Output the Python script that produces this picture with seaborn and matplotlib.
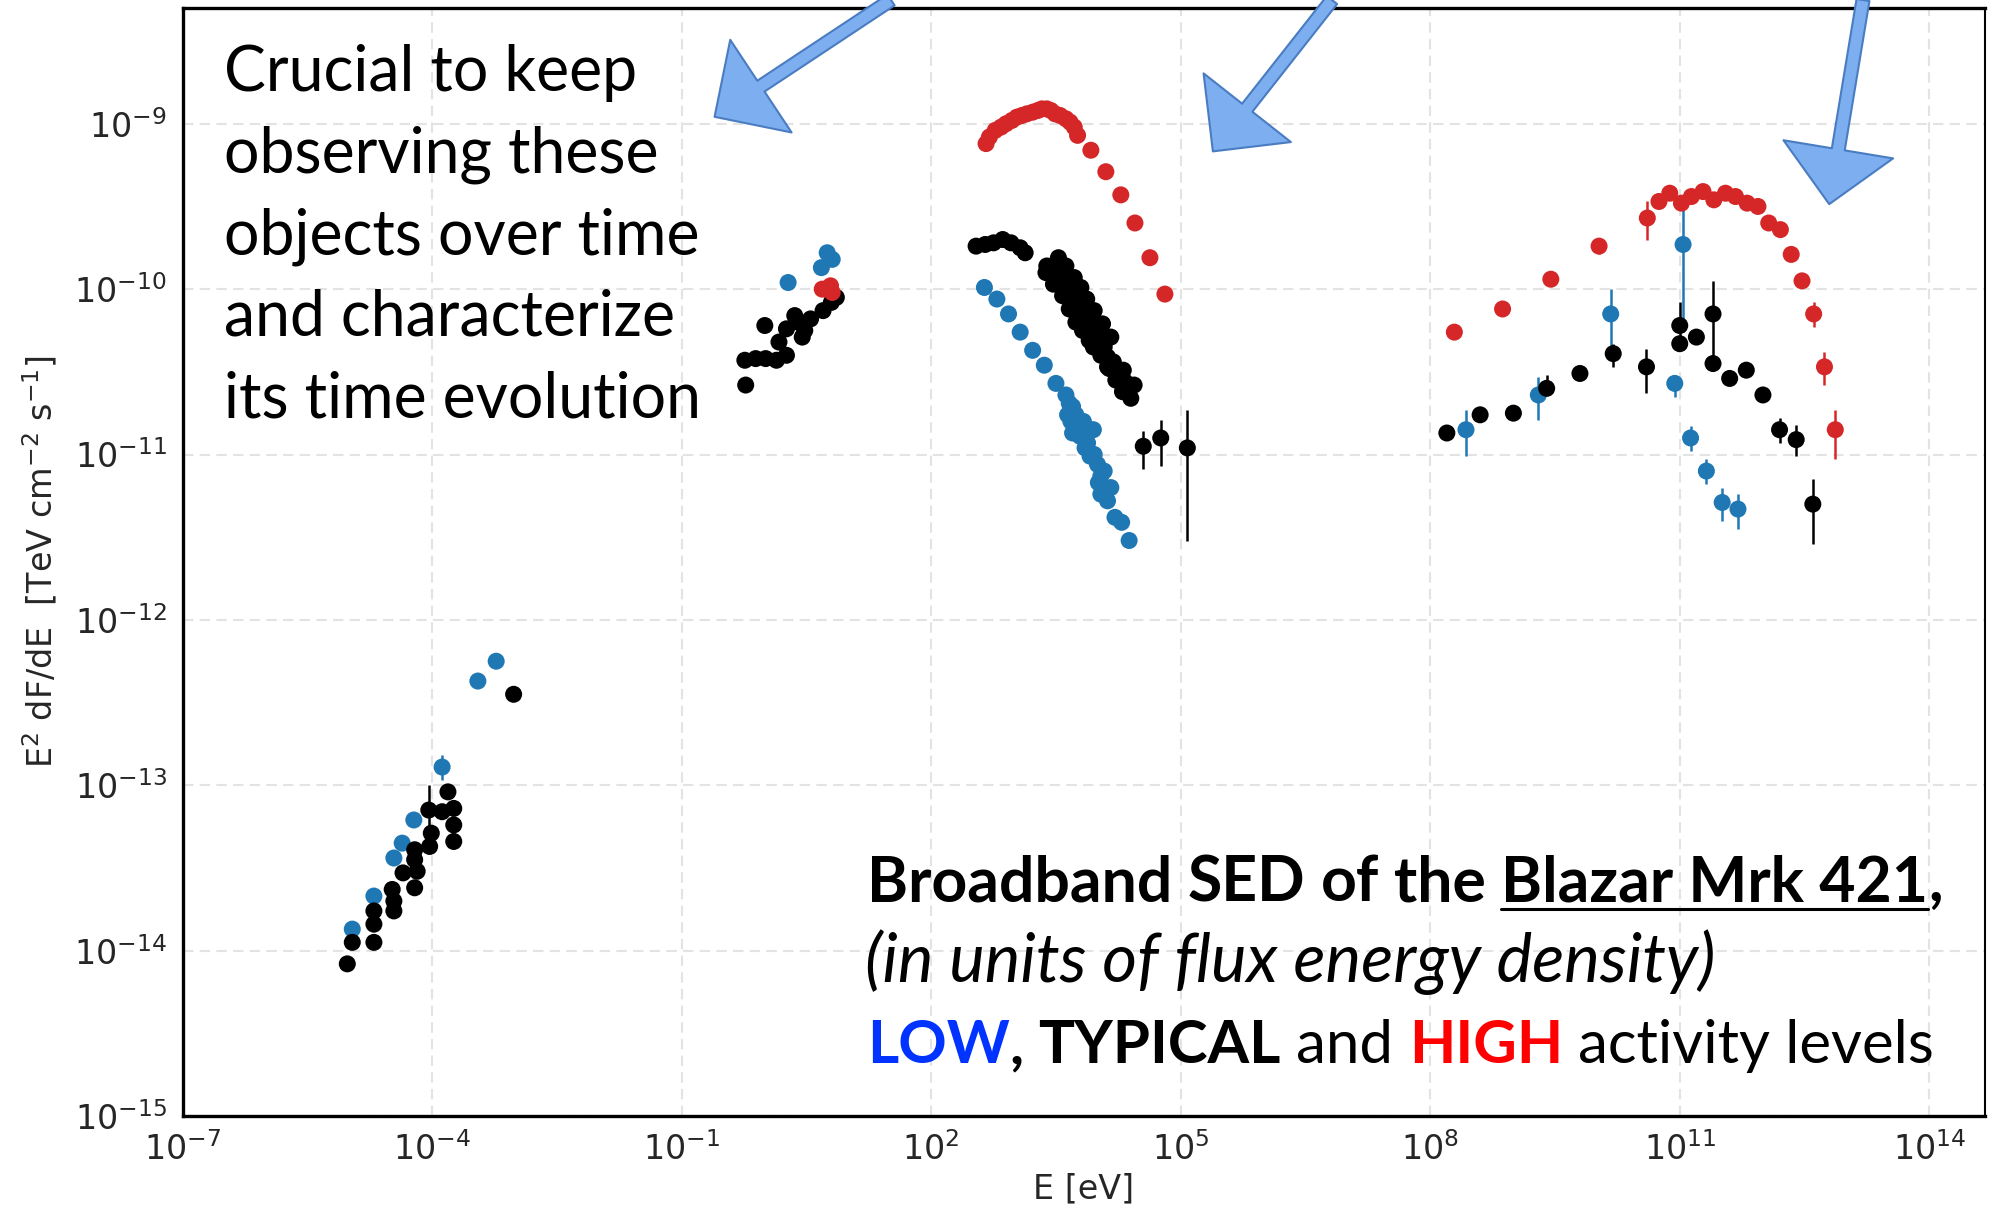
import numpy as np
import pandas as pd
import matplotlib
matplotlib.use("Agg")
import matplotlib.pyplot as plt
from matplotlib.lines import Line2D
import seaborn as sns

W, H = 1995, 1215

# values are log10(E / eV) and log10(E^2 dF/dE / TeV cm-2 s-1)
low_logE = [-4.96, -4.70, -4.46, -4.36, -4.22, -3.88, -3.45, -3.23,
            0.28, 0.68, 0.75, 0.81,
            2.64, 2.79, 2.93, 3.07, 3.22, 3.36, 3.50, 3.62, 3.66, 3.70, 3.64, 3.74,
            3.83, 3.70, 3.79, 3.91, 3.95, 3.85, 3.91, 4.00, 4.04, 4.08, 4.16, 4.04,
            4.12, 4.21, 4.29, 4.38, 3.68, 3.76, 3.88, 3.96, 4.01, 4.10,
            8.43, 9.30, 10.17, 10.94, 11.04, 11.13, 11.32, 11.51, 11.70]
low_logF = [-13.87, -13.67, -13.44, -13.35, -13.21, -12.89, -12.37, -12.25,
            -9.96, -9.87, -9.78, -9.82,
            -9.99, -10.06, -10.15, -10.26, -10.37, -10.46, -10.57, -10.64, -10.69, -10.71, -10.76, -10.76,
            -10.80, -10.87, -10.89, -10.85, -10.85, -10.96, -11.01, -11.06, -11.13, -11.10, -11.20, -11.24,
            -11.28, -11.38, -11.41, -11.52, -10.80, -10.84, -10.93, -11.00, -11.17, -11.22,
            -10.85, -10.64, -10.15, -10.57, -9.73, -10.90, -11.10, -11.29, -11.33]

typ_logE = [-5.02, -4.96, -4.70, -4.70, -4.70, -4.46, -4.46, -4.48, -4.35, -4.21, -4.18,
            -4.21, -4.21, -4.03, -4.01, -4.04, -3.88, -3.74, -3.74, -3.74, -3.81, -3.02,
            -0.23, -0.24, -0.11, 0.01, 0.14, 0.26, 0.17, 0.00, 0.26, 0.36, 0.45, 0.48,
            0.70, 0.86, 0.40, 0.55, 0.80,
            2.54, 2.65, 2.75, 2.86, 2.96, 3.07, 3.13,
            3.39, 3.45, 3.49, 3.53, 3.55, 3.60, 3.62, 3.66, 3.68, 3.72, 3.74, 3.79,
            3.81, 3.85, 3.87, 3.91, 3.93, 3.95, 4.00, 4.04, 4.08, 4.12, 4.14, 4.19,
            4.23, 4.27, 4.31, 4.33, 4.38, 4.44, 4.40,
            3.53, 3.62, 3.72, 3.80, 3.87, 3.96, 4.06, 4.16,
            3.38, 3.47, 3.58, 3.66, 3.74, 3.82, 3.90, 3.95, 4.04, 4.12, 4.22, 4.30,
            4.55, 4.76, 5.08,
            8.20, 8.60, 9.00, 9.40, 9.80, 10.20, 10.60, 11.00, 11.00, 11.20, 11.40,
            11.40, 11.60, 11.80, 12.00, 12.20, 12.40, 12.60]
typ_logF = [-14.08, -13.95, -13.95, -13.84, -13.76, -13.76, -13.70, -13.63, -13.53, -13.62, -13.52,
            -13.45, -13.39, -13.37, -13.29, -13.15, -13.16, -13.14, -13.24, -13.34, -13.04, -12.45,
            -10.58, -10.43, -10.42, -10.42, -10.43, -10.40, -10.32, -10.22, -10.24, -10.16, -10.29, -10.25,
            -10.13, -10.05, -10.20, -10.18, -10.08,
            -9.74, -9.73, -9.72, -9.70, -9.72, -9.75, -9.78,
            -9.86, -9.88, -9.85, -9.84, -9.89, -9.91, -9.96, -9.95, -10.01, -9.99, -10.06, -10.08,
            -10.13, -10.15, -10.20, -10.21, -10.27, -10.29, -10.27, -10.32, -10.35, -10.41, -10.48, -10.44,
            -10.50, -10.54, -10.49, -10.56, -10.59, -10.58, -10.66,
            -9.81, -9.86, -9.93, -9.99, -10.06, -10.13, -10.21, -10.29,
            -9.90, -9.97, -10.04, -10.12, -10.20, -10.25, -10.31, -10.35, -10.40, -10.47, -10.55, -10.62,
            -10.95, -10.90, -10.96,
            -10.87, -10.76, -10.75, -10.60, -10.51, -10.39, -10.47, -10.22, -10.33, -10.29, -10.15,
            -10.45, -10.54, -10.49, -10.64, -10.85, -10.91, -11.30]

high_logE = [0.69, 0.79, 0.81,
             2.66, 2.77, 2.90, 3.03, 3.15, 3.28, 3.39, 3.49, 3.62, 3.72, 3.76, 3.92,
             4.10, 4.28, 4.45, 4.63, 4.81,
             2.70, 2.84, 2.97, 3.09, 3.22, 3.33, 3.44, 3.55, 3.67,
             8.29, 8.87, 9.45, 10.03, 10.61, 10.75, 10.88, 11.02, 11.14, 11.28, 11.41,
             11.55, 11.67, 11.81, 11.94, 12.07, 12.21, 12.34, 12.47, 12.61, 12.74, 12.87]
high_logF = [-10.00, -9.98, -10.02,
             -9.12, -9.04, -9.00, -8.96, -8.94, -8.92, -8.91, -8.94, -8.97, -9.02, -9.07, -9.16,
             -9.29, -9.43, -9.60, -9.81, -10.03,
             -9.08, -9.02, -8.98, -8.95, -8.93, -8.91, -8.92, -8.95, -8.99,
             -10.26, -10.12, -9.94, -9.74, -9.57, -9.47, -9.42, -9.48, -9.44, -9.41, -9.46,
             -9.42, -9.44, -9.48, -9.50, -9.60, -9.64, -9.79, -9.95, -10.15, -10.47, -10.85]

# error bars: log10 E, lower and upper log10 flux
low_err_logE = [-3.88, 8.43, 9.30, 10.17, 10.94, 11.04, 11.13, 11.32, 11.51, 11.70]
low_err_lo = [-12.97, -11.01, -10.79, -10.39, -10.65, -10.26, -10.98, -11.18, -11.40, -11.45]
low_err_hi = [-12.82, -10.73, -10.53, -10.00, -10.52, -9.50, -10.83, -11.03, -11.20, -11.24]

typ_err_logE = [-4.04, 4.55, 4.76, 5.08, 9.40, 10.20, 10.60, 11.00, 11.40, 12.20, 12.40, 12.60]
typ_err_lo = [-13.31, -11.09, -11.07, -11.52, -10.64, -10.47, -10.63, -10.36, -10.45, -10.93, -11.01, -11.54]
typ_err_hi = [-13.00, -10.86, -10.79, -10.73, -10.52, -10.33, -10.36, -10.08, -9.95, -10.78, -10.82, -11.15]

high_err_logE = [4.81, 10.03, 10.61, 12.61, 12.74, 12.87]
high_err_lo = [-10.07, -9.79, -9.70, -10.23, -10.58, -11.03]
high_err_hi = [-9.98, -9.69, -9.47, -10.08, -10.38, -10.73]

colors = {"low": "#1f77b4", "typical": "black", "high": "#d62728"}

df = pd.concat([
    pd.DataFrame({"E": 10.0 ** np.array(low_logE), "F": 10.0 ** np.array(low_logF), "level": "low"}),
    pd.DataFrame({"E": 10.0 ** np.array(typ_logE), "F": 10.0 ** np.array(typ_logF), "level": "typical"}),
    pd.DataFrame({"E": 10.0 ** np.array(high_logE), "F": 10.0 ** np.array(high_logF), "level": "high"}),
])

sns.set_style("whitegrid", {"grid.linestyle": (0, (5, 3)), "grid.color": "#e3e3e3",
                            "axes.edgecolor": "black"})

fig = plt.figure(figsize=(W / 100, H / 100), dpi=100)
ax = fig.add_axes([182.6 / W, 1 - 1116 / H, (1985 - 182.6) / W, (1116 - 8) / H])

for lev, xe, lo, hi in [("low", low_err_logE, low_err_lo, low_err_hi),
                        ("typical", typ_err_logE, typ_err_lo, typ_err_hi),
                        ("high", high_err_logE, high_err_lo, high_err_hi)]:
    ax.vlines(10.0 ** np.array(xe), 10.0 ** np.array(lo), 10.0 ** np.array(hi),
              colors=colors[lev], linewidth=1.8, zorder=2)

sns.scatterplot(data=df, x="E", y="F", hue="level", palette=colors, s=150,
                linewidth=0, legend=False, ax=ax, zorder=3)

ax.set_xscale("log")
ax.set_yscale("log")
ax.set_xlim(1e-7, 10 ** 14.67)
ax.set_ylim(1e-15, 10 ** -8.3)
ax.set_xticks([10.0 ** k for k in range(-7, 15, 3)])
ax.set_yticks([10.0 ** k for k in range(-15, -8)])
ax.minorticks_off()
ax.grid(True, linewidth=1.5)
ax.tick_params(labelsize=24, colors="#262626", pad=8)
ax.set_xlabel("E [eV]", fontsize=24, color="#262626", labelpad=4)
ax.set_ylabel(r"E$^2$ dF/dE  [TeV cm$^{-2}$ s$^{-1}$]", fontsize=24, color="#262626", labelpad=10)
for side in ["top", "bottom", "left"]:
    ax.spines[side].set_linewidth(2.4)
ax.spines["right"].set_linewidth(1.5)

# blue arrows from the top edge
arrow_tips = [(-0.604, -8.958), (5.387, -9.167), (12.797, -9.486)]
arrow_tails = [891 / W, 1332 / W, 1863 / W]
for (te, tf), tx in zip(arrow_tips, arrow_tails):
    ax.annotate("", xy=(10 ** te, 10 ** tf), xycoords="data", xytext=(tx, 1.0),
                textcoords="figure fraction", annotation_clip=False, zorder=10,
                arrowprops=dict(arrowstyle="simple,head_length=2.0,head_width=4.0,tail_width=0.47",
                                mutation_scale=20, fc="#7daef0", ec="#4a7cc2", lw=1.5,
                                shrinkA=0, shrinkB=0))

fnt = "Lato"
left_lines = ["Crucial to keep", "observing these", "objects over time",
              "and characterize", "its time evolution"]
for i, line in enumerate(left_lines):
    fig.text(224 / W, 1 - (91 + 81.5 * i) / H, line, fontsize=45, family=fnt,
             color="black", va="baseline", ha="left")

fig.canvas.draw()
rend = fig.canvas.get_renderer()


def width_of(s, **kw):
    t = fig.text(0, 0, s, **kw)
    w = t.get_window_extent(rend).width
    t.remove()
    return w


def put_line(segments, x0, ybase):
    x = x0
    out = []
    for s, kw in segments:
        if s == " ":
            x += width_of("x x", **kw) - width_of("xx", **kw)
            continue
        t = fig.text(x / W, 1 - ybase / H, s, va="baseline", ha="left", **kw)
        bb = t.get_window_extent(rend)
        out.append(bb)
        x = bb.x1
    return out


bold = dict(fontsize=45, family=fnt, weight="bold", color="black")
ital = dict(fontsize=48.3, family=fnt, style="italic", color="black")
bold3 = dict(fontsize=43.2, family=fnt, weight="bold", color="black")
reg3 = dict(fontsize=43.2, family=fnt, color="black")

bbs = put_line([("Broadband", bold), (" ", bold), ("SED", bold), (" ", bold), ("of", bold),
                (" ", bold), ("the", bold), (" ", bold), ("Blazar Mrk 421", bold), (",", bold)],
               867, 901)
ul = bbs[-2]
fig.add_artist(Line2D([ul.x0 / W, ul.x1 / W], [(H - 909) / H, (H - 909) / H],
                      color="black", linewidth=2.2))
put_line([("(in units of flux energy density)", ital)], 865, 982)
put_line([("LOW", dict(bold3, color="#0033ff")), (",", bold3), (" ", bold3), ("TYPICAL", bold3),
          (" ", reg3), ("and", reg3), (" ", reg3), ("HIGH", dict(bold3, color="#ff0000")),
          (" ", reg3), ("activity levels", reg3)], 867, 1063)

fig.savefig("out.png", dpi=100)
